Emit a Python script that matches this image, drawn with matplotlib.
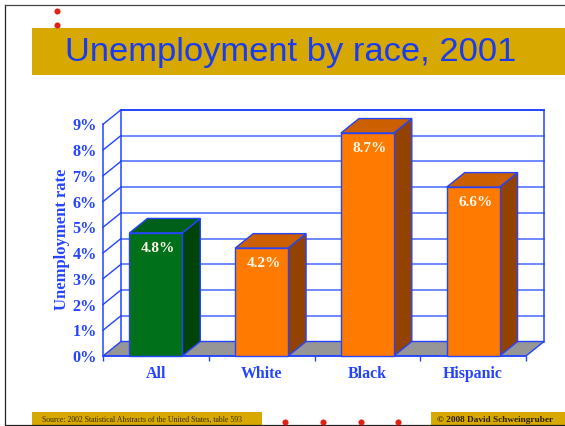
import matplotlib
matplotlib.use('Agg')
import matplotlib.pyplot as plt
from matplotlib.patches import Polygon, Rectangle

title = 'Unemployment by race, 2001'
categories = ['All', 'White', 'Black', 'Hispanic']
values = [4.8, 4.2, 8.7, 6.6]
heights = [4.78, 4.19, 8.66, 6.56]
ytick_labels = ['0%', '1%', '2%', '3%', '4%', '5%', '6%', '7%', '8%', '9%']
source = 'Source: 2002 Statistical Abstracts of the United States, table 593'
credit = '\u00a9 2008 David Schweingruber'

W, H = 565, 426
BLUE = '#2444ff'
GRID = '#6f88ff'
GOLD = '#d6a800'
RED = '#e02010'
SERIF = 'Liberation Serif'
SANS = 'Liberation Sans'

fig = plt.figure(figsize=(W / 100, H / 100), dpi=100, facecolor='white')

# slide furniture, in pixels
bg = fig.add_axes([0, 0, 1, 1])
bg.set_xlim(0, W)
bg.set_ylim(H, 0)
bg.axis('off')
bg.plot([5, 5], [5, 425], color='#222222', lw=0.9)
bg.plot([5, W], [5, 5], color='#444444', lw=0.9)
bg.plot([5, W], [425, 425], color='#222222', lw=0.9)
bg.add_patch(Rectangle((32, 28), W - 32, 47, color=GOLD, lw=0))
bg.add_patch(Rectangle((32, 412), 230, 13, color=GOLD, lw=0))
bg.add_patch(Rectangle((431, 412), W - 431, 13, color=GOLD, lw=0))
bg.plot([57, 57], [11, 25], 'o', color=RED, ms=4.4, mew=0, zorder=5)
bg.plot([285, 323, 361, 398], [422] * 4, 'o', color=RED, ms=4.4, mew=0, zorder=5)
bg.text(291, 52, title, color='#1a3cf0', family=SANS, fontsize=24.8, ha='center', va='center')
bg.text(42, 419.5, source, color='#3a2c00', family=SERIF, fontsize=5.58, va='center')
bg.text(437, 420, credit, color='#2a2000', family=SERIF, fontsize=6.65, weight='bold', va='center')

# chart, data coords: x in categories, y in percent
x0, x1, y0, y9 = 103, 526, 356, 124.3
ax = fig.add_axes([x0 / W, 1 - y0 / H, (x1 - x0) / W, (y0 - y9) / H])
ax.set_xlim(0, 4)
ax.set_ylim(0, 9)
ax.patch.set_visible(False)

# depth offset of the fake 3d
dx = 18 / ((x1 - x0) / 4)
dy = 14.5 / ((y0 - y9) / 9)
bar_w = 0.5

for s in ['top', 'right']:
    ax.spines[s].set_visible(False)
for s in ['left', 'bottom']:
    ax.spines[s].set_color(BLUE)
    ax.spines[s].set_linewidth(1.1)

ax.add_patch(Polygon([(0, 0), (4, 0), (4 + dx, dy), (dx, dy)], closed=True,
                     facecolor='#969696', edgecolor=BLUE, lw=1.0, zorder=1, clip_on=False))
for i in range(1, 10):
    top = i == 9
    ax.plot([dx, 4 + dx], [i + dy, i + dy], color=BLUE if top else GRID, lw=1.4, zorder=0.5, clip_on=False)
    ax.plot([0, dx], [i, i + dy], color=BLUE, lw=1.0, zorder=0.5, clip_on=False)
ax.plot([dx, dx], [dy, 9 + dy], color=BLUE, lw=1.1, zorder=0.6, clip_on=False)
ax.plot([4 + dx, 4 + dx], [dy, 9 + dy], color=BLUE, lw=1.1, zorder=0.6, clip_on=False)

colors = [('#00701a', '#004308', '#00601a')] + [('#ff7a00', '#934200', '#cc6000')] * 3
for i, (val, h) in enumerate(zip(values, heights)):
    front, side, top = colors[i]
    left = i + 0.25
    right = left + bar_w
    ax.add_patch(Polygon([(right, 0), (right + dx, dy), (right + dx, h + dy), (right, h)], closed=True,
                         facecolor=side, edgecolor=BLUE, lw=1.0, zorder=3, clip_on=False))
    ax.add_patch(Polygon([(left, h), (right, h), (right + dx, h + dy), (left + dx, h + dy)], closed=True,
                         facecolor=top, edgecolor=BLUE, lw=1.0, zorder=3, clip_on=False))
    ax.bar(i + 0.5, h, width=bar_w, color=front, edgecolor=BLUE, lw=1.0, zorder=4, clip_on=False)
    ax.text(i + 0.5 + 0.02, h - 0.6, '%.1f%%' % val, color='#fff8e8', family=SERIF, weight='bold',
            fontsize=11, ha='center', va='center', zorder=5)

ax.set_yticks(range(10))
ax.set_yticklabels(ytick_labels, family=SERIF, weight='bold', fontsize=11.7, color=BLUE)
ax.tick_params(axis='y', length=0, pad=4.5)
ax.set_xticks(range(5))
ax.set_xticklabels([])
ax.tick_params(axis='x', length=3.5, width=1.0, color=BLUE)
ax.set_xticks([i + 0.5 for i in range(4)], minor=True)
ax.set_xticklabels(categories, minor=True, family=SERIF, weight='bold', fontsize=11.4, color=BLUE)
ax.tick_params(axis='x', which='minor', length=0, pad=7)
ax.set_ylabel('Unemployment rate', family=SERIF, weight='bold', fontsize=12, color=BLUE, labelpad=2, y=0.505)

fig.savefig('out.png', dpi=100)
